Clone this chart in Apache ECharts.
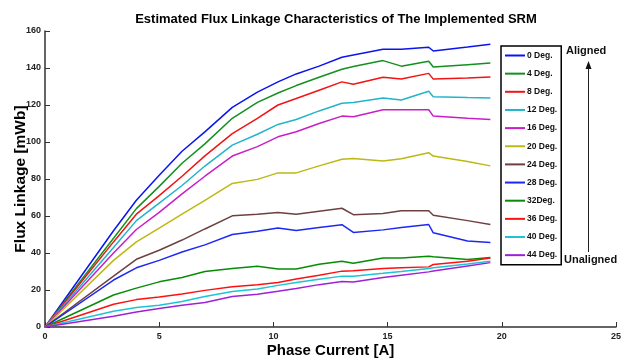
<!DOCTYPE html>
<html>
<head>
<meta charset="utf-8">
<script src="https://cdn.jsdelivr.net/npm/echarts@6/dist/echarts.min.js"></script>
<style>html,body{margin:0;padding:0;background:#fff}#c{width:631px;height:360px}</style>
</head>
<body>
<div id="c"></div>
<script>
const current = [0, 3, 4, 5, 6, 7, 8.2, 9.3, 10.2, 11, 12, 13, 13.5, 14.8, 15.6, 16.8, 17, 18.5, 19.5];
const names = ['0 Deg.', '4 Deg.', '8 Deg.', '12 Deg.', '16 Deg.', '20 Deg.', '24 Deg.', '28 Deg.', '32Deg.', '36 Deg.', '40 Deg.', '44 Deg.'];
const deg0  = [0, 52, 68.5, 82, 95, 105.5, 118.7, 127, 132.5, 136.8, 141, 145.8, 147, 150.1, 150.2, 151.2, 149.2, 151.3, 152.8];
const deg4  = [0, 48, 64, 76, 88.5, 99, 112.8, 121.4, 126.5, 130.5, 135, 139.3, 140.8, 144, 141, 143.6, 140.5, 141.8, 142.7];
const deg8  = [0, 46, 61, 71, 81.5, 92.5, 104.5, 112.8, 120, 123.5, 128, 132.5, 131.2, 135, 134, 137.1, 134, 134.6, 135.1];
const deg12 = [0, 43, 57.5, 67, 76.5, 87, 98.3, 104.2, 109.5, 112.2, 116.8, 120.9, 121.3, 123.8, 122.7, 127.4, 124.5, 124, 123.8];
const deg16 = [0, 40, 52.7, 62, 72, 81.5, 92.4, 97.5, 102.8, 105.5, 110, 114, 113.6, 117.4, 117.4, 117.4, 114, 112.8, 112.2];
const deg20 = [0, 36, 46, 53.5, 61, 68.5, 77.6, 79.8, 83.3, 83.3, 87.1, 90.7, 91.1, 89.7, 91, 94.2, 92.4, 89.5, 87.1];
const deg24 = [0, 27.5, 36.6, 41.5, 47, 53, 60.1, 61, 61.9, 61, 62.6, 64.2, 60.7, 61.4, 62.8, 62.8, 60.4, 57.5, 55.4];
const deg28 = [0, 25.4, 32, 36, 40.5, 44.4, 50, 51.8, 53.5, 52.2, 53.8, 55.3, 51.1, 52.5, 53.8, 55.4, 50.9, 46.5, 45.7];
const deg32 = [0, 17.3, 21, 24.4, 26.8, 30, 31.6, 32.8, 31.4, 31.4, 33.9, 35.6, 34.4, 37.3, 37.3, 38.3, 38, 36.5, 37.6];
const deg36 = [0, 12.3, 14.8, 16.2, 17.8, 19.8, 21.8, 22.8, 24, 26, 28, 30.2, 30.4, 31.6, 32, 32.5, 33.8, 35.5, 37.3];
const deg40 = [0, 8.5, 10.5, 11.7, 13.8, 16.5, 19.2, 20.5, 22.5, 24, 25.8, 27.5, 27.4, 29, 30, 31.6, 32, 34, 35.6];
const deg44 = [0, 5.8, 8.1, 10, 11.7, 13.3, 16.5, 17.7, 19.3, 20.8, 22.9, 24.6, 24.3, 26.8, 28, 29.8, 30.3, 33, 34.8];
const xTicks = [0, 5, 10, 15, 20, 25];
const yTicks = [0, 20, 40, 60, 80, 100, 120, 140, 160];

const values = [deg0, deg4, deg8, deg12, deg16, deg20, deg24, deg28, deg32, deg36, deg40, deg44];
const colors = ['#0a14f0', '#13901f', '#f01414', '#22b4cc', '#c81ec8', '#bdb812', '#6e4040', '#1e28f5', '#078c07', '#ff1010', '#1ec4d4', '#a020d8'];
const narrow = "'Liberation Sans Narrow', 'Liberation Sans', Arial, sans-serif";

const chart = echarts.init(document.getElementById('c'), null, {renderer: 'canvas'});
chart.setOption({
  animation: false,
  backgroundColor: '#fff',
  title: {
    text: 'Estimated Flux Linkage Characteristics of The Implemented SRM',
    left: 331, top: 8, textAlign: 'center',
    textStyle: {fontFamily: narrow, fontSize: 13, fontWeight: 'bold', color: '#000'}
  },
  grid: {left: 45, right: 15, top: 31, bottom: 33, containLabel: false, outerBoundsMode: 'none'},
  legend: {
    orient: 'vertical', left: 501, top: 46,
    data: names,
    icon: 'rect',
    itemWidth: 20, itemHeight: 2, itemGap: 7.15,
    padding: [4, 4, 4, 4],
    borderColor: '#000', borderWidth: 1.5, borderRadius: 0,
    textStyle: {fontFamily: narrow, fontSize: 8.5, fontWeight: 'bold', color: '#111', lineHeight: 11, padding: [0, 0, 0, -3]}
  },
  xAxis: {
    type: 'value', min: 0, max: 25, interval: 5,
    name: 'Phase Current [A]', nameLocation: 'middle', nameGap: 16, nameMoveOverlap: false,
    nameTextStyle: {fontFamily: narrow, fontSize: 15, fontWeight: 'bold', color: '#000'},
    axisLine: {lineStyle: {color: '#333', width: 1.5}},
    axisTick: {inside: true, length: 5, lineStyle: {color: '#333', width: 1}},
    axisLabel: {fontFamily: narrow, fontSize: 9, fontWeight: 'bold', color: '#222', margin: 5,
      formatter: v => xTicks.includes(v) ? String(v) : ''},
    splitLine: {show: false}
  },
  yAxis: {
    type: 'value', min: 0, max: 160, interval: 20,
    name: 'Flux Linkage [mWb]', nameLocation: 'middle', nameGap: 16, nameMoveOverlap: false,
    nameTextStyle: {fontFamily: "'Liberation Sans', Arial, sans-serif", fontSize: 15.5, fontWeight: 'bold', color: '#000'},
    axisLine: {show: true, lineStyle: {color: '#333', width: 1.5}},
    axisTick: {show: true, inside: true, length: 5, lineStyle: {color: '#333', width: 1}},
    axisLabel: {fontFamily: narrow, fontSize: 9, fontWeight: 'bold', color: '#222', margin: 4,
      formatter: v => yTicks.includes(v) ? String(v) : ''},
    splitLine: {show: false}
  },
  series: values.map((vals, i) => ({
    name: names[i], type: 'line', symbol: 'none', showSymbol: false,
    data: current.map((x, j) => [x, vals[j]]),
    lineStyle: {color: colors[i], width: 1.5},
    itemStyle: {color: colors[i]}
  })),
  graphic: [
    {type: 'text', left: 566, top: 45, style: {text: 'Aligned', fontFamily: narrow, fontSize: 11, fontWeight: 'bold', fill: '#111'}},
    {type: 'text', left: 564, top: 254, style: {text: 'Unaligned', fontFamily: narrow, fontSize: 11, fontWeight: 'bold', fill: '#111'}},
    {type: 'line', shape: {x1: 588.5, y1: 252, x2: 588.5, y2: 66}, style: {stroke: '#222', lineWidth: 1}},
    {type: 'polygon', shape: {points: [[585.5, 69], [588.5, 61], [591.5, 69]]}, style: {fill: '#111'}}
  ]
});
</script>
</body>
</html>
